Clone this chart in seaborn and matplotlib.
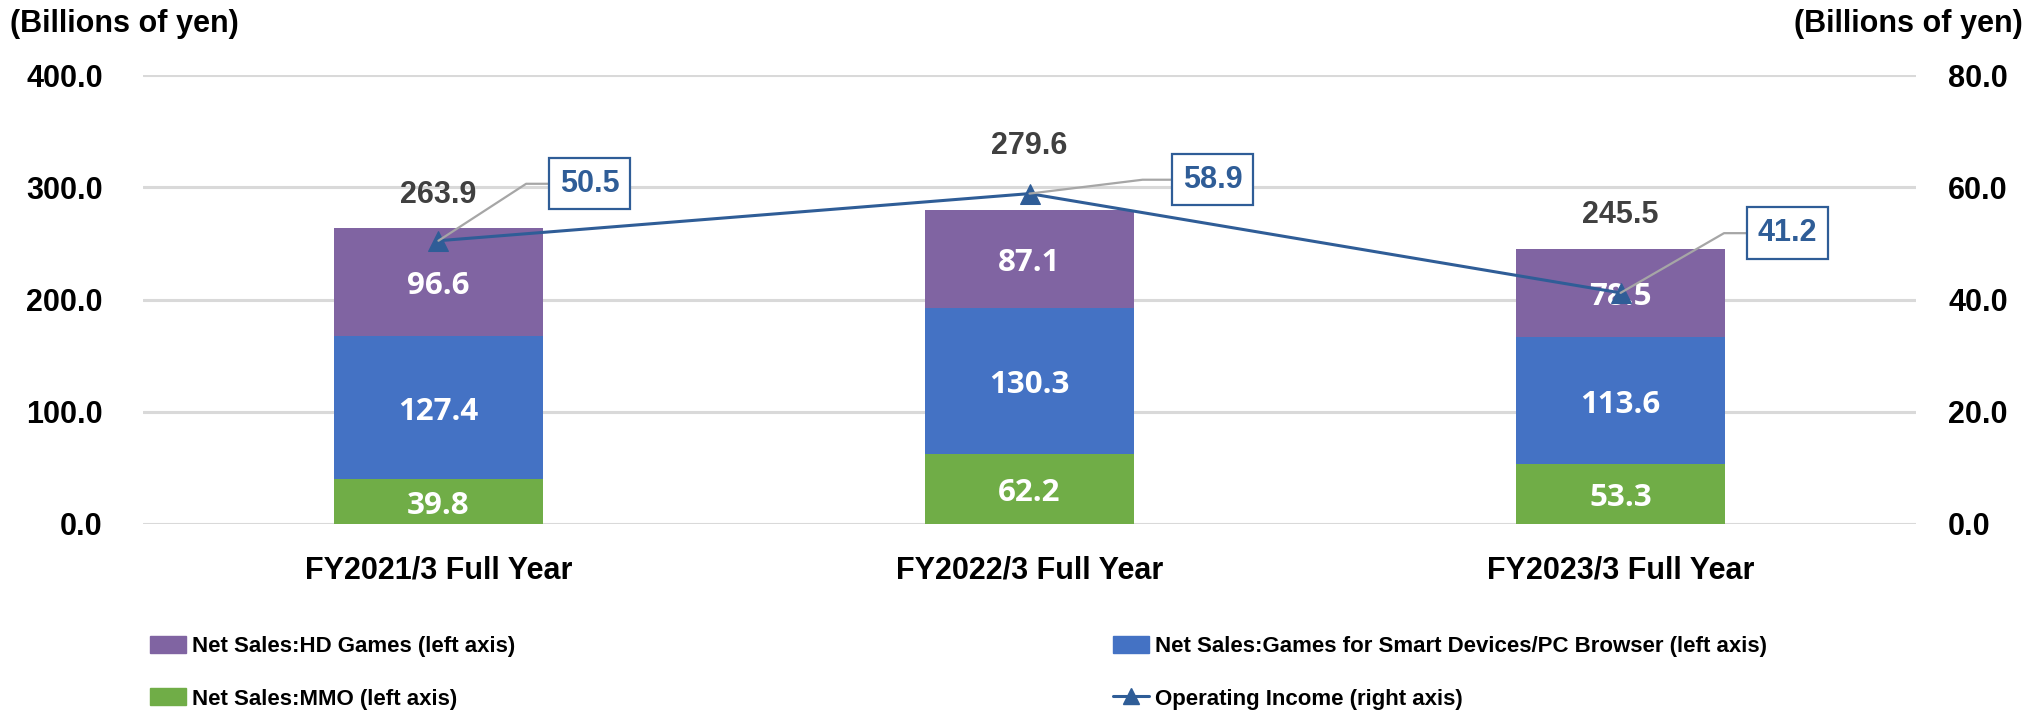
import numpy as np
import matplotlib.pyplot as plt
import seaborn as sns
from matplotlib.patches import Patch
from matplotlib.lines import Line2D

# ---- data ----
categories = ['FY2021/3 Full Year', 'FY2022/3 Full Year', 'FY2023/3 Full Year']
mmo = [39.8, 62.2, 53.3]
smart_devices = [127.4, 130.3, 113.6]
hd_games = [96.6, 87.1, 78.5]
totals = [263.9, 279.6, 245.5]
op_income = [50.5, 58.9, 41.2]
left_ticks = [0, 100, 200, 300, 400]
right_ticks = [0, 20, 40, 60, 80]

# ---- style ----
PURPLE = '#8064A2'
BLUE = '#4472C4'
GREEN = '#70AD47'
LINE = '#2F5D97'
GRID = '#D9D9D9'
DARK = '#404040'

sns.set_theme(style='white')
plt.rcParams['font.family'] = ['Liberation Sans Narrow', 'Liberation Sans', 'DejaVu Sans']
plt.rcParams['font.weight'] = 'bold'
plt.rcParams['text.color'] = 'black'
plt.rcParams['xtick.color'] = 'black'
plt.rcParams['ytick.color'] = 'black'
BAR_FONT = ['Open Sans', 'DejaVu Sans']

fig = plt.figure(figsize=(20.33, 7.10), dpi=100)
ax = fig.add_axes([0.0703, 0.262, 0.8722, 0.632])

# stacked bars drawn as overlapping cumulative bars
c1 = np.array(mmo)
c2 = c1 + np.array(smart_devices)
c3 = c2 + np.array(hd_games)
for vals, col in [(c3, PURPLE), (c2, BLUE), (c1, GREEN)]:
    sns.barplot(x=categories, y=vals, color=col, saturation=1, width=0.355,
                errorbar=None, ax=ax, zorder=2, linewidth=0)

ax.set_xlim(-0.5, 2.5)
ax.set_ylim(0, 400)
ax.set_yticks(left_ticks)
ax.set_yticklabels([f'{t:.1f}' for t in left_ticks], fontsize=22, fontweight='bold')
ax.set_xticks(range(len(categories)))
ax.set_xticklabels(categories, fontsize=22, fontweight='bold')
ax.tick_params(axis='x', length=0, pad=23)
ax.tick_params(axis='y', length=0, pad=29)
ax.yaxis.grid(True, color=GRID, lw=2.2, zorder=0)
ax.set_axisbelow(True)
for s in ax.spines.values():
    s.set_visible(False)
ax.set_xlabel('')
ax.set_ylabel('')

# segment labels
for i in range(len(categories)):
    for bottom, val in [(0, mmo[i]), (c1[i], smart_devices[i]), (c2[i], hd_games[i])]:
        ax.annotate(f'{val:.1f}', xy=(i, bottom + val / 2), xytext=(0, -3),
                    textcoords='offset points', ha='center', va='center',
                    color='white', fontsize=22.5, fontweight='bold', family=BAR_FONT, zorder=5)

# total labels
total_offsets = [24, 46, 24]
for i, t in enumerate(totals):
    ax.annotate(f'{t:.1f}', xy=(i, c3[i]), xytext=(0, total_offsets[i]),
                textcoords='offset points', ha='center', va='center',
                fontsize=22, fontweight='bold', color=DARK)

# operating income line on right axis
ax2 = ax.twinx()
sns.lineplot(x=range(len(categories)), y=op_income, ax=ax2, color=LINE, lw=2.2,
             marker='^', markersize=14, markeredgecolor=LINE, zorder=4)
ax2.set_ylim(0, 80)
ax2.set_yticks(right_ticks)
ax2.set_yticklabels([f'{t:.1f}' for t in right_ticks], fontsize=22, fontweight='bold')
ax2.tick_params(axis='y', length=0, pad=23)
ax2.grid(False)
for s in ax2.spines.values():
    s.set_visible(False)

box_offsets = [(109, 41), (132, 10), (120, 43)]
leader_angles = [33, 7, 30]
for i, v in enumerate(op_income):
    ax2.annotate(f'{v:.1f}', xy=(i, v), xytext=box_offsets[i], textcoords='offset points',
                 ha='center', va='center', fontsize=22, fontweight='bold', color=LINE,
                 bbox=dict(boxstyle='square,pad=0.35', fc='white', ec=LINE, lw=1.6),
                 arrowprops=dict(arrowstyle='-', color='#A6A6A6', lw=1.6, shrinkA=0, shrinkB=0,
                                 connectionstyle=f'angle,angleA=0,angleB={leader_angles[i]},rad=0'),
                 zorder=6)

# axis unit labels
fig.text(10 / 2033, 1 - 24 / 710, '(Billions of yen)', ha='left', va='center', fontsize=22, fontweight='bold')
fig.text(2023 / 2033, 1 - 24 / 710, '(Billions of yen)', ha='right', va='center', fontsize=22, fontweight='bold')

# legends
leg_kw = dict(frameon=False, handlelength=1.6, handleheight=0.8,
              handletextpad=0.3, labelspacing=1.4, borderpad=0, borderaxespad=0,
              prop={'weight': 'bold', 'size': 16})
h1 = [Patch(color=PURPLE, label='Net Sales:HD Games (left axis)'),
      Patch(color=GREEN, label='Net Sales:MMO (left axis)')]
h2 = [Patch(color=BLUE, label='Net Sales:Games for Smart Devices/PC Browser (left axis)'),
      Line2D([], [], color=LINE, lw=2.2, marker='^', markersize=12, label='Operating Income (right axis)')]
fig.legend(handles=h1, loc='upper left', bbox_to_anchor=(150 / 2033, 1 - 636 / 710), **leg_kw)
fig.legend(handles=h2, loc='upper left', bbox_to_anchor=(1113 / 2033, 1 - 636 / 710), **leg_kw)

fig.savefig('out.png', dpi=100)
